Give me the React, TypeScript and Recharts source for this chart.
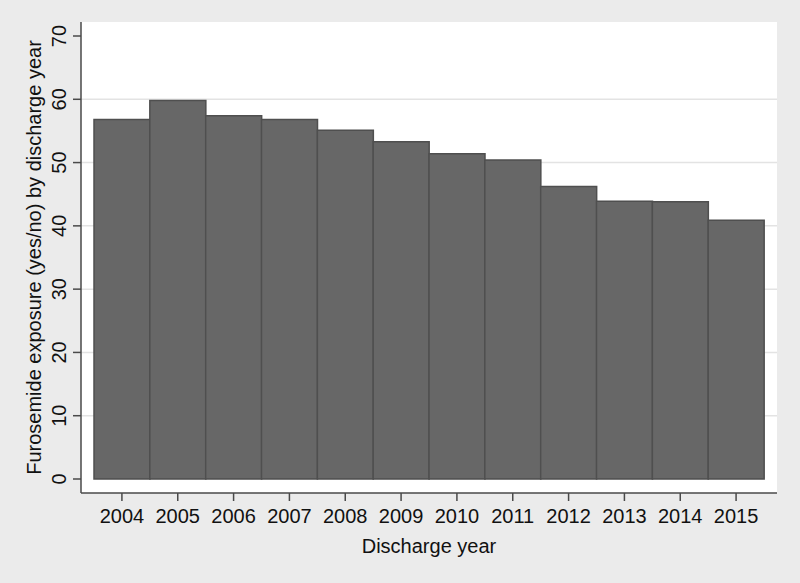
import { BarChart, Bar, XAxis, YAxis, CartesianGrid, Label } from 'recharts';

const years = ['2004', '2005', '2006', '2007', '2008', '2009', '2010', '2011', '2012', '2013', '2014', '2015'];
const exposure = [56.8, 59.8, 57.4, 56.8, 55.1, 53.3, 51.4, 50.4, 46.2, 43.9, 43.8, 40.9];
const yTicks = [0, 10, 20, 30, 40, 50, 60, 70];
const gridLines = [10, 20, 30, 40, 50, 60];

const data = years.map((year, i) => ({ year, value: exposure[i] }));

const FONT = '"Liberation Sans", Arial, sans-serif';
const AXIS = '#4a4a4a';

// y tick labels are turned on their side like in Stata
function YTick({ x, y, payload }: any) {
  const tx = x - 5;
  return (
    <text x={tx} y={y} transform={`rotate(-90, ${tx}, ${y})`} textAnchor="middle"
      fontSize={20} fontFamily={FONT} fill="#111">
      {payload.value}
    </text>
  );
}

function YLabel({ viewBox }: any) {
  const cx = 41;
  const cy = viewBox.y + viewBox.height / 2;
  return (
    <text x={cx} y={cy} transform={`rotate(-90, ${cx}, ${cy})`} textAnchor="middle"
      fontSize={20} fontFamily={FONT} fill="#111">
      Furosemide exposure (yes/no) by discharge year
    </text>
  );
}

export default function App() {
  return (
    <div style={{ position: 'absolute', top: 0, left: 0, width: 800, height: 583, background: '#ebebeb' }}>
      <BarChart width={800} height={583} data={data} barCategoryGap={0}
        margin={{ top: 22, right: 23, bottom: 0, left: 0 }}>
        <CartesianGrid vertical={false} horizontalValues={gridLines} fill="#ffffff"
          stroke="#e3e3e3" strokeWidth={1.5} />
        <XAxis dataKey="year" height={90} padding={{ left: 13, right: 13 }}
          axisLine={{ stroke: AXIS, strokeWidth: 1.5 }} tickLine={{ stroke: AXIS, strokeWidth: 1.5 }}
          tickSize={8} tickMargin={8}
          tick={{ fontSize: 20, fontFamily: FONT, fill: '#111' }}>
          <Label value="Discharge year" position="insideBottom" offset={30}
            style={{ fontSize: 20, fontFamily: FONT, fill: '#111' }} />
        </XAxis>
        <YAxis width={81} domain={[0, 70]} ticks={yTicks} padding={{ top: 14, bottom: 14 }}
          axisLine={{ stroke: AXIS, strokeWidth: 1.5 }} tickLine={{ stroke: AXIS, strokeWidth: 1.5 }}
          tickSize={8} tick={<YTick />} interval={0}>
          <Label content={<YLabel />} />
        </YAxis>
        <Bar dataKey="value" fill="#676767" stroke="#4f4f4f" strokeWidth={1.5} isAnimationActive={false} />
      </BarChart>
    </div>
  );
}
